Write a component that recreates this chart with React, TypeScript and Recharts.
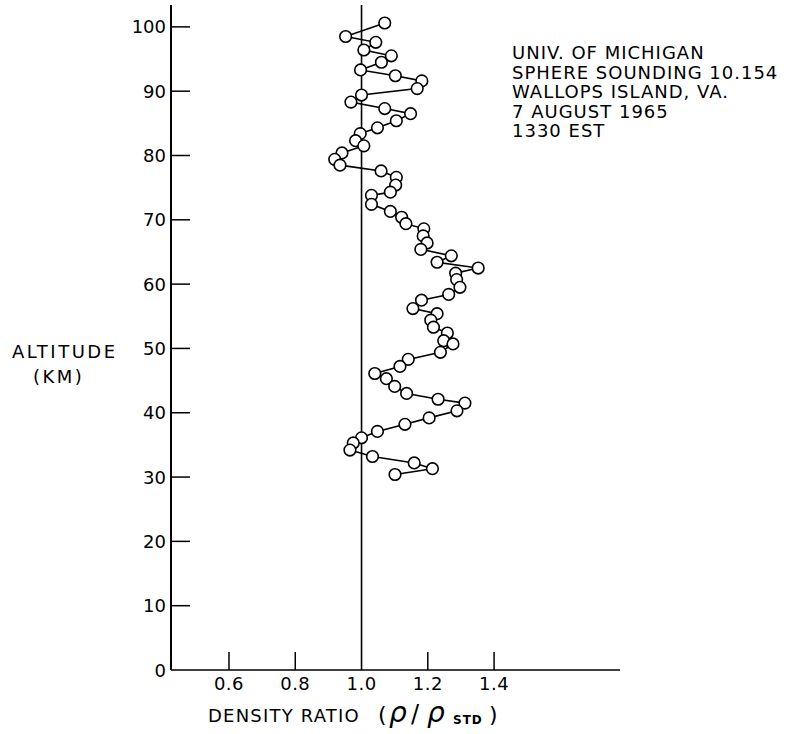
import React from 'react';
import { ScatterChart, Scatter, XAxis, YAxis, ReferenceLine } from 'recharts';

// Sphere sounding profile, altitude (km) vs density ratio
const altitudes = [
  100.6, 98.5, 97.6, 96.4, 95.5, 94.5, 93.3, 92.4, 91.6, 90.4,
  89.4, 88.3, 87.3, 86.5, 85.4, 84.3, 83.4, 82.3, 81.5, 80.4,
  79.4, 78.5, 77.6, 76.6, 75.4, 74.3, 73.8, 72.4, 71.3, 70.4,
  69.4, 68.6, 67.5, 66.4, 65.4, 64.4, 63.4, 62.5, 61.7, 60.7,
  59.5, 58.4, 57.5, 56.2, 55.4, 54.4, 53.3, 52.4, 51.2, 50.7,
  49.4, 48.3, 47.2, 46.1, 45.3, 44.1, 43.0, 42.1, 41.5, 40.3,
  39.2, 38.2, 37.1, 36.1, 35.3, 34.2, 33.2, 32.2, 31.3, 30.4,
];
const ratios = [
  1.070, 0.952, 1.043, 1.007, 1.090, 1.060, 0.997, 1.102, 1.182, 1.168,
  1.000, 0.968, 1.070, 1.148, 1.105, 1.048, 0.996, 0.982, 1.007, 0.941,
  0.919, 0.935, 1.059, 1.105, 1.103, 1.087, 1.030, 1.030, 1.087, 1.121,
  1.134, 1.188, 1.186, 1.198, 1.179, 1.271, 1.228, 1.352, 1.284, 1.287,
  1.297, 1.263, 1.181, 1.155, 1.228, 1.209, 1.217, 1.259, 1.248, 1.276,
  1.238, 1.141, 1.116, 1.040, 1.075, 1.100, 1.136, 1.231, 1.312, 1.288,
  1.204, 1.131, 1.048, 1.000, 0.975, 0.965, 1.033, 1.159, 1.214, 1.101,
];
const xTicks = [0.6, 0.8, 1.0, 1.2, 1.4];
const yTicks = [0, 10, 20, 30, 40, 50, 60, 70, 80, 90, 100];
const infoLines = [
  'UNIV. OF MICHIGAN',
  'SPHERE SOUNDING 10.154',
  'WALLOPS ISLAND, VA.',
  '7 AUGUST 1965',
  '1330 EST',
];

const data = altitudes.map((alt, i) => ({ alt, ratio: ratios[i] }));

const FONT = '"DejaVu Sans", sans-serif';

const XTick = (props: any) => {
  const { x, y, payload } = props;
  return (
    <g>
      {payload.value !== 1 && <line x1={x} y1={y} x2={x} y2={y - 18} stroke="#000" strokeWidth={1.5} />}
      <text x={x} y={y + 20} textAnchor="middle" fontFamily={FONT} fontSize={18} letterSpacing={0.5} fill="#000">
        {payload.value.toFixed(1)}
      </text>
    </g>
  );
};

const YTick = (props: any) => {
  const { x, y, payload } = props;
  return (
    <g>
      {payload.value !== 0 && <line x1={x} y1={y} x2={x + 19} y2={y} stroke="#000" strokeWidth={1.5} />}
      <text x={x - 5} y={y + 6.5} textAnchor="end" fontFamily={FONT} fontSize={18} fill="#000">
        {payload.value}
      </text>
    </g>
  );
};

const Ring = (props: any) => {
  const { cx, cy } = props;
  return <circle cx={cx} cy={cy} r={5.8} fill="#fff" stroke="#000" strokeWidth={1.6} />;
};

export default function App() {
  return (
    <div style={{ position: 'absolute', left: 0, top: 0, width: 787, height: 734, background: '#fff' }}>
      <ScatterChart width={787} height={734} margin={{ top: 5, right: 167, bottom: 34, left: 0 }}>
        <XAxis
          type="number"
          dataKey="ratio"
          domain={[0.425, 1.78]}
          ticks={xTicks}
          tick={<XTick />}
          tickSize={0}
          tickMargin={0}
          height={30}
          stroke="#000"
          strokeWidth={1.6}
          allowDataOverflow
        />
        <YAxis
          type="number"
          dataKey="alt"
          domain={[0, 103.4]}
          ticks={yTicks}
          tick={<YTick />}
          tickSize={0}
          tickMargin={0}
          width={171}
          stroke="#000"
          strokeWidth={2}
          allowDataOverflow
        />
        <ReferenceLine x={1} stroke="#000" strokeWidth={1.6} />
        <Scatter
          data={data}
          shape={<Ring />}
          line={{ stroke: '#000', strokeWidth: 1.6 }}
          lineType="joint"
          isAnimationActive={false}
        />
      </ScatterChart>
      <svg width={787} height={734} style={{ position: 'absolute', left: 0, top: 0, pointerEvents: 'none' }}>
        <g fontFamily={FONT} fontSize={18} fill="#000">
          {infoLines.map((line, i) => (
            <text key={line} x={512} y={59 + i * 19.5} letterSpacing={1}>
              {line}
            </text>
          ))}
          <text x={12} y={358} letterSpacing={2.5}>ALTITUDE</text>
          <text x={33} y={383} letterSpacing={2.5}>(KM)</text>
          <text y={722}>
            <tspan x={208} letterSpacing={1.2}>DENSITY RATIO</tspan>
            <tspan x={378} fontSize={22}>(</tspan>
            <tspan x={389} fontStyle="italic" fontSize={28}>ρ</tspan>
            <tspan x={411} fontSize={24}>/</tspan>
            <tspan x={427} fontStyle="italic" fontSize={28}>ρ</tspan>
            <tspan x={453} dy={2} fontSize={12} fontWeight="bold" letterSpacing={1}>STD</tspan>
            <tspan x={489} dy={-2} fontSize={22}>)</tspan>
          </text>
        </g>
      </svg>
    </div>
  );
}
